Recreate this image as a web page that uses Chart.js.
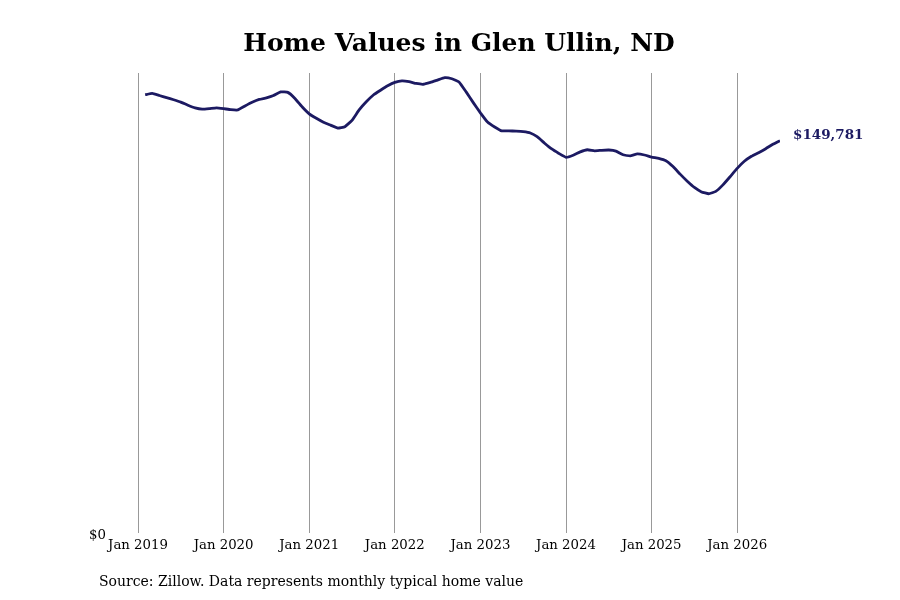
<!DOCTYPE html>
<html>
<head>
<meta charset="utf-8">
<style>
  html, body { margin: 0; padding: 0; background: #ffffff; }
  #wrap { width: 900px; height: 600px; }
</style>
<script src="https://cdn.jsdelivr.net/npm/chart.js@4/dist/chart.umd.min.js"></script>
</head>
<body>
<div id="wrap"><canvas id="c" width="900" height="600"></canvas></div>
<script>
// Monthly typical home values, Jan 2019 .. Jun 2026 (end of month)
const startYear = 2019;
const values = [
  167300, 167800, 167000, 166200, 165400, 164500, 163300, 162300, 161800, 162000, 162300, 162000,
  161600, 161500, 163000, 164400, 165500, 166100, 167000, 168400, 168200, 165900, 162700, 160000,
  158300, 156800, 155700, 154600, 155100, 157500, 161500, 164600, 167200, 169000, 170700, 172000,
  172600, 172300, 171600, 171300, 172000, 172900, 173800, 173400, 172200, 168400, 164300, 160400,
  156900, 155000, 153500, 153500, 153400, 153200, 152700, 151200, 148800, 146600, 144900, 143400,
  144200, 145500, 146300, 145900, 146100, 146200, 145800, 144400, 144000, 144700, 144300, 143500,
  143000, 142100, 139900, 137000, 134300, 131900, 130200, 129500, 130400, 132900, 136000, 139200,
  141900, 143800, 145200, 146700, 148400, 149781
];
const tickLabels = ['Jan 2019', 'Jan 2020', 'Jan 2021', 'Jan 2022', 'Jan 2023', 'Jan 2024', 'Jan 2025', 'Jan 2026'];
const yTickLabels = ['$0'];
const titleText = 'Home Values in Glen Ullin, ND';
const sourceText = 'Source: Zillow. Data represents monthly typical home value';

const lineColor = '#1c1a62';
const serif = "'DejaVu Serif', serif";

// points: x = months since Jan 2019 (end-of-month dates)
const points = values.map((v, i) => ({ x: i + 1, y: v }));

const fmt = v => '$' + Math.round(v).toLocaleString('en-US');

const extrasPlugin = {
  id: 'extras',
  afterDatasetsDraw(chart) {
    const ctx = chart.ctx;
    const meta = chart.getDatasetMeta(0);
    const last = meta.data[meta.data.length - 1];
    ctx.save();
    ctx.font = "bold 13.5px " + serif;
    ctx.fillStyle = lineColor;
    ctx.textBaseline = 'middle';
    ctx.textAlign = 'left';
    ctx.fillText(fmt(values[values.length - 1]), last.x + 13, last.y - 5);
    ctx.restore();
  },
  afterDraw(chart) {
    const ctx = chart.ctx;
    ctx.save();
    ctx.font = "14px " + serif;
    ctx.fillStyle = '#000000';
    ctx.textBaseline = 'middle';
    ctx.textAlign = 'left';
    ctx.fillText(sourceText, 99, 582);
    ctx.restore();
  }
};

new Chart(document.getElementById('c'), {
  type: 'line',
  data: {
    datasets: [{
      data: points,
      borderColor: lineColor,
      borderWidth: 2.8,
      pointRadius: 0,
      tension: 0.1,
      fill: false
    }]
  },
  options: {
    responsive: false,
    animation: false,
    devicePixelRatio: 1,
    layout: { padding: { left: 0, right: 120, top: 0, bottom: 41 } },
    plugins: {
      legend: { display: false },
      tooltip: { enabled: false },
      title: {
        display: true,
        text: titleText,
        fullSize: false,
        color: '#000000',
        font: { family: serif, size: 25, weight: 'bold' },
        padding: { top: 29, bottom: 14 }
      }
    },
    scales: {
      x: {
        type: 'linear',
        min: 0,
        max: values.length,
        afterBuildTicks(scale) {
          scale.ticks = tickLabels.map((_, i) => ({ value: i * 12 }));
        },
        ticks: {
          autoSkip: false,
          maxRotation: 0,
          padding: 5,
          color: '#000000',
          font: { family: serif, size: 13.3 },
          callback(value) {
            const idx = Math.round(value / 12);
            return tickLabels[idx];
          }
        },
        grid: { display: true, color: '#999999', lineWidth: 1, drawTicks: false },
        border: { display: false }
      },
      y: {
        min: 0,
        max: 175600,
        afterBuildTicks(scale) {
          scale.ticks = [{ value: 0 }];
        },
        afterFit(scale) { scale.width = 138; },
        ticks: {
          padding: 24,
          labelOffset: 2,
          color: '#000000',
          font: { family: serif, size: 13.3 },
          callback(value) { return value === 0 ? yTickLabels[0] : ''; }
        },
        grid: { display: false },
        border: { display: false }
      }
    }
  },
  plugins: [extrasPlugin]
});
</script>
</body>
</html>
